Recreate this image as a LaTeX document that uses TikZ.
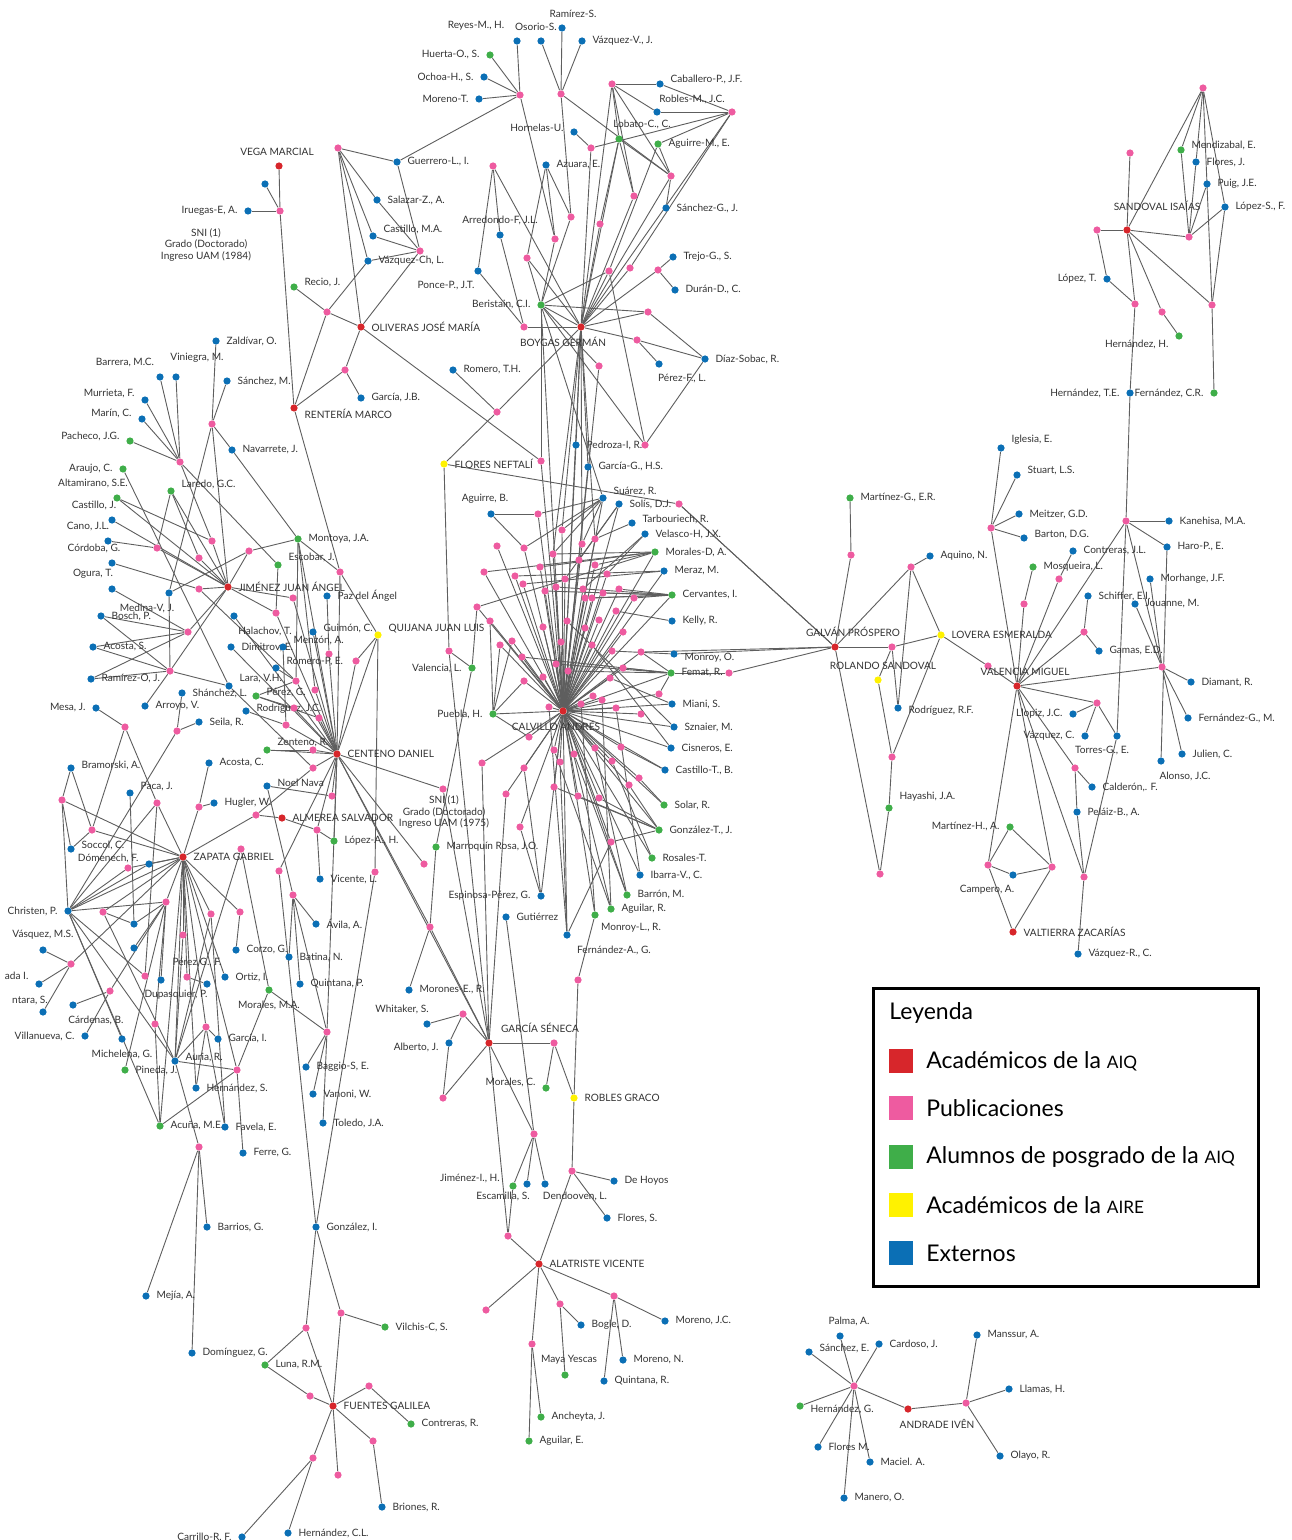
\documentclass[tikz,border=0pt]{standalone}
\usepackage{fontspec}
\setmainfont{Lato}
\definecolor{cR}{HTML}{D7262B}
\definecolor{cP}{HTML}{EE5BA0}
\definecolor{cG}{HTML}{3FAE49}
\definecolor{cY}{HTML}{FFF200}
\definecolor{cB}{HTML}{0B6FB5}
\definecolor{txt}{HTML}{333333}
\definecolor{lnc}{HTML}{5E5E5E}
\newcommand\lbf{\fontsize{5.05}{5.6}\selectfont}
\newcommand\legf{\fontsize{11.5}{13}\selectfont}
\newcommand\sca[1]{{\fontsize{8.6}{10}\selectfont #1}}
\pgfdeclarelayer{bg}
\pgfsetlayers{bg,main}
\begin{document}
\begin{tikzpicture}[x=0.5pt,y=-0.5pt,
  dot/.style={circle,inner sep=0pt,minimum size=3.6pt},
  dR/.style={dot,fill=cR}, dP/.style={dot,fill=cP}, dG/.style={dot,fill=cG},
  dY/.style={dot,fill=cY}, dB/.style={dot,fill=cB},
  lnk/.style={draw=lnc,line width=0.45pt},
  txtn/.style={font=\lbf,text=txt,inner sep=0pt},
  every label/.style={font=\lbf,text=txt,inner sep=0.5pt},
  label distance=2.6pt,
  sq/.style={minimum size=12pt,inner sep=0pt},
  legt/.style={anchor=west,font=\legf,inner sep=0pt,text=black}]
\useasboundingbox (0,0) rectangle (1291,1540);
% ---------- top-left
\node[dR,label={[xshift=-1pt]above:VEGA MARCIAL}] (vega) at (279,166) {};
\node[dB] (b1) at (265,184) {};
\node[dP] (p1) at (280,211) {};
\node[dB,label={left:Iruegas-E, A.}] (irue) at (248,211) {};
\node[txtn,align=center] (sni1) at (206,245) {SNI (1)\\Grado (Doctorado)\\Ingreso UAM (1984)};
\node[dP] (p2) at (338,148) {};
\node[dB,label={right:Guerrero-L., I.}] (guer) at (397,162) {};
\node[dB,label={right:Salazar-Z., A.}] (sala) at (377,200) {};
\node[dB,label={[yshift=3.5pt]right:Castillo, M.A.}] (cast) at (373,236) {};
\node[dP] (p3) at (420,251) {};
\node[dB,label={right:Vázquez-Ch, L.}] (vazch) at (368,261) {};
\node[dG,label={[yshift=2pt]right:Recio, J.}] (recio) at (294,287) {};
\node[dP] (p4) at (327,312) {};
\node[dR,label={right:OLIVERAS JOSÉ MARÍA}] (oliv) at (361,327) {};
\node[dP] (p5) at (345,370) {};
\node[dB,label={right:García, J.B.}] (garJB) at (361,398) {};
\node[dR,label={[yshift=-3pt]right:RENTERÍA MARCO}] (rent) at (294,408) {};
\node[dB,label={right:Zaldívar, O.}] (zald) at (216,341) {};
\node[dB,label={[xshift=-17.5pt]above:Barrera, M.C.}] (barr) at (160,377) {};
\node[dB,label={[xshift=10.5pt,yshift=2pt]above:Viniegra, M.}] (vini) at (176,377) {};
\node[dB,label={right:Sánchez, M.}] (sanM) at (227,381) {};
% ---------- top-middle
\node[dB,label={[xshift=5.5pt]above:Ramírez-S.}] (rami) at (562,28) {};
\node[dB,label={[xshift=-20.5pt]above:Reyes-M., H.}] (reyes) at (517,41) {};
\node[dB,label={[xshift=-2.5pt]above:Osorio-S.}] (osor) at (541,41) {};
\node[dB,label={right:Vázquez-V., J.}] (vazV) at (582,41) {};
\node[dG,label={left:Huerta-O., S.}] (huer) at (490,55) {};
\node[dB,label={left:Ochoa-H., S.}] (ocho) at (484,77) {};
\node[dB,label={left:Moreno-T.}] (more) at (479,99) {};
\node[dP] (p6) at (520,95) {};
\node[dP] (p7) at (561,94) {};
\node[dP] (p8) at (612,84) {};
\node[dB,label={[yshift=2.5pt]right:Caballero-P., J.F.}] (caba) at (660,84) {};
\node[dB,label={[xshift=17.5pt,yshift=-1pt]above:Robles-M., J.C.}] (robl) at (657,112) {};
\node[dP] (p9) at (732,112) {};
\node[dB,label={[yshift=2pt]left:Hornelas-U.}] (horn) at (574,132) {};
\node[dP] (p10) at (591,148) {};
\node[dG,label={[xshift=11.5pt]above:Lobato-C., C.}] (loba) at (619,139) {};
\node[dG,label={right:Aguirre-M., E.}] (agM) at (658,144) {};
\node[dP] (p11) at (493,166) {};
\node[dB,label={right:Azuara, E.}] (azua) at (546,165) {};
\node[dP] (p12) at (671,176) {};
\node[dP] (p13) at (634,196) {};
\node[dB,label={right:Sánchez-G., J.}] (sanG) at (666,208) {};
\node[dP] (p14) at (571,217) {};
\node[dP] (p15) at (600,224) {};
\node[dB,label={above:Arredondo-F, J.L.}] (arre) at (500,235) {};
\node[dP] (p16) at (555,239) {};
\node[dP] (p17) at (527,258) {};
\node[dB,label={right:Trejo-G., S.}] (trej) at (673,257) {};
\node[dP] (p18) at (658,270) {};
\node[dP] (p19) at (630,268) {};
\node[dP] (p20) at (609,271) {};
\node[dB,label={[xshift=-16pt]below:Ponce-P., J.T.}] (ponc) at (478,271) {};
\node[dB,label={right:Durán-D., C.}] (dura) at (675,290) {};
\node[dG,label={left:Beristain, C.I.}] (beri) at (541,305) {};
\node[dP] (p21) at (648,312) {};
\node[dR,label={[xshift=-9pt]below:BOYGAS GERMÁN}] (boyg) at (581,327) {};
\node[dP] (p22) at (524,327) {};
\node[dP] (p23) at (637,340) {};
\node[dB,label={right:Díaz-Sobac, R.}] (diaz) at (705,359) {};
\node[dB,label={[xshift=11.5pt]below:Pérez-F., L.}] (pere) at (659,364) {};
\node[dP] (p24) at (599,366) {};
\node[dB,label={right:Romero, T.H.}] (romT) at (453,370) {};
% ---------- top-right
\node[dP] (p25) at (1203,88) {};
\node[dP] (p26) at (1130,153) {};
\node[dG,label={[yshift=2.5pt]right:Mendizabal, E.}] (mend) at (1181,150) {};
\node[dB,label={right:Flores, J.}] (florJ) at (1196,162) {};
\node[dB,label={right:Puig, J.E.}] (puig) at (1207,184) {};
\node[dB,label={right:López-S., F.}] (lopS) at (1225,207) {};
\node[dR,label={[xshift=15pt,yshift=4.2pt]above:SANDOVAL ISAÍAS}] (sand) at (1127,230) {};
\node[dP] (p27) at (1097,230) {};
\node[dP] (p28) at (1189,237) {};
\node[dB,label={left:López, T.}] (lopT) at (1107,279) {};
\node[dP] (p29) at (1135,304) {};
\node[dP] (p30) at (1162,312) {};
\node[dP] (p31) at (1212,305) {};
\node[dG,label={[yshift=-4pt]left:Hernández, H.}] (hernH) at (1179,336) {};
\node[dB,label={left:Hernández, T.E.}] (hernTE) at (1130,393) {};
\node[dG,label={left:Fernández, C.R.}] (fernCR) at (1214,393) {};
% ---------- right-middle
\node[dB,label={[yshift=4pt]right:Iglesia, E.}] (igle) at (1001,448) {};
\node[dB,label={[yshift=2pt]right:Stuart, L.S.}] (stua) at (1017,475) {};
\node[dB,label={right:Meitzer, G.D.}] (meit) at (1019,514) {};
\node[dB,label={[yshift=1.5pt]right:Barton, D.G.}] (bart) at (1024,538) {};
\node[dP] (p32) at (991,528) {};
\node[dG,label={right:Martínez-G., E.R.}] (marG) at (850,498) {};
\node[dP] (p33) at (851,555) {};
\node[dB,label={right:Kanehisa, M.A.}] (kane) at (1169,521) {};
\node[dP] (p34) at (1126,521) {};
\node[dB,label={right:Haro-P., E.}] (haro) at (1167,547) {};
\node[dB,label={right:Contreras, J.L.}] (cont) at (1073,551) {};
\node[dB,label={right:Aquino, N.}] (aqui) at (930,556) {};
\node[dP] (p35) at (911,567) {};
\node[dG,label={right:Mosqueira, L.}] (mosq) at (1033,567) {};
\node[dP] (p36) at (1059,579) {};
\node[dB,label={right:Morhange, J.F.}] (morh) at (1150,579) {};
\node[dB,label={right:Schiffer, E.I.}] (schi) at (1088,596) {};
\node[dB,label={right:Jouanne, M.}] (joua) at (1135,604) {};
\node[dP] (p37) at (1024,604) {};
\node[dP] (p38) at (1084,632) {};
\node[dY,label={right:LOVERA ESMERALDA}] (love) at (941,635) {};
\node[dP] (p39) at (892,647) {};
\node[dB,label={right:Gamas, E.D.}] (gama) at (1099,651) {};
\node[dP] (p40) at (988,666) {};
\node[dP] (p41) at (1162,667) {};
\node[dY,label={[xshift=2.5pt]above:ROLANDO SANDOVAL}] (rola) at (878,680) {};
\node[dR,label={[xshift=4pt]above:VALENCIA MIGUEL}] (vale) at (1017,686) {};
\node[dB,label={right:Diamant, R.}] (diam) at (1191,682) {};
\node[dB,label={[yshift=-1.5pt]right:Rodríguez, R.F.}] (rodRF) at (898,708) {};
\node[dP] (p42) at (1097,703) {};
\node[dB,label={left:Llopiz, J.C.}] (llop) at (1073,714) {};
\node[dB,label={right:Fernández-G., M.}] (fernGM) at (1188,718) {};
\node[dB,label={left:Vázquez, C.}] (vazC) at (1085,736) {};
\node[dB,label={[xshift=-7.5pt]below:Torres-G., E.}] (torr) at (1117,736) {};
\node[dB,label={right:Julien, C.}] (juli) at (1182,754) {};
\node[dB,label={[xshift=12pt]below:Alonso, J.C.}] (alon) at (1161,761) {};
\node[dP] (p43) at (892,757) {};
\node[dP] (p44) at (1075,768) {};
\node[dR,label={[xshift=9pt]above:GALVÁN PRÓSPERO}] (galv) at (835,647) {};
% ---------- lower-right
\node[dG,label={[yshift=5.5pt]right:Hayashi, J.A.}] (haya) at (889,808) {};
\node[dP] (p45) at (880,874) {};
\node[dG,label={left:Martínez-H., A.}] (marH) at (1010,827) {};
\node[dP] (p46) at (988,865) {};
\node[dB,label={[xshift=-13pt]below:Campero, A.}] (camp) at (1013,875) {};
\node[dP] (p47) at (1052,867) {};
\node[dR,label={right:VALTIERRA ZACARÍAS}] (valt) at (1013,932) {};
\node[dP] (p48) at (1084,877) {};
\node[dB,label={right:Vázquez-R., C.}] (vazR) at (1078,954) {};
\node[dB,label={right:Calderón,. F.}] (cald) at (1092,787) {};
\node[dB,label={right:Peláiz-B., A.}] (pela) at (1077,812) {};
% ---------- left-middle
\node[dB,label={[yshift=3.5pt]left:Murrieta, F.}] (murr) at (145,400) {};
\node[dB,label={[yshift=2.5pt]left:Marín, C.}] (mari) at (142,419) {};
\node[dG,label={[yshift=2.5pt]left:Pacheco, J.G.}] (pach) at (130,441) {};
\node[dP] (p49) at (212,424) {};
\node[dB,label={right:Navarrete, J.}] (nava) at (232,450) {};
\node[dP] (p50) at (180,462) {};
\node[dG,label={left:Araujo, C.}] (arau) at (123,469) {};
\node[dG,label={[yshift=3.5pt]right:Laredo, G.C.}] (lare) at (171,491) {};
\node[dG,label={[xshift=-12pt]above:Altamirano, S.E.}] (alta) at (117,498) {};
\node[dB,label={[xshift=-9pt]above:Castillo, J.}] (casJ) at (112,520) {};
\node[dB,label={[xshift=-10pt]above:Cano, J.L.}] (canoJ) at (108,541) {};
\node[dP] (p51) at (157,548) {};
\node[dP] (p52) at (212,541) {};
\node[dP] (p53) at (199,558) {};
\node[dB,label={[xshift=-9pt]above:Córdoba, G.}] (cord) at (112,563) {};
\node[dG,label={right:Montoya, J.A.}] (mont) at (298,539) {};
\node[dP] (p54) at (249,551) {};
\node[dG,label={[yshift=4pt]right:Escobar, J.}] (esco) at (278,565) {};
\node[dP] (p55) at (340,572) {};
\node[dR,label={right:JIMÉNEZ JUAN ÁNGEL}] (jime) at (228,587) {};
\node[dP] (p56) at (199,589) {};
\node[dB,label={[xshift=-9.5pt]above:Ogura, T.}] (ogur) at (112,589) {};
\node[dB,label={[xshift=-11pt]below:Medina-V, J.}] (medi) at (169,593) {};
\node[dB,label={right:Paz del Ángel}] (paz) at (327,596) {};
\node[dP] (p57) at (293,598) {};
\node[dP] (p58) at (276,613) {};
\node[dB,label={[xshift=15.5pt]below:Halachov, T.}] (hala) at (234,616) {};
\node[dB,label={right:Bosch, P.}] (bosc) at (101,616) {};
\node[dB,label={[yshift=2pt]right:Guimón, C.}] (guim) at (313,632) {};
\node[dY,label={[yshift=3pt]right:QUIJANA JUAN LUIS}] (quij) at (378,635) {};
\node[dP] (p59) at (188,632) {};
\node[dB,label={right:Acosta, S.}] (acoS) at (93,647) {};
\node[dB,label={right:Dimitrov, E.}] (dimi) at (231,647) {};
\node[dB,label={[yshift=3pt]right:Menzón, A.}] (menz) at (283,647) {};
\node[dP] (p60) at (329,654) {};
\node[dP] (p61) at (356,661) {};
\node[dB,label={[yshift=3pt]right:Romero-P, E.}] (romP) at (276,668) {};
\node[dP] (p62) at (296,681) {};
\node[dB,label={right:Ramírez-O, J.}] (ramO) at (91,679) {};
\node[dP] (p63) at (170,671) {};
\node[dB,label={[yshift=3.5pt]right:Lara, V.H.}] (lara) at (229,686) {};
\node[dB,label={right:Shánchez, L.}] (shan) at (182,693) {};
\node[dP] (p64) at (315,690) {};
\node[dG,label={[yshift=1.5pt]right:Pérez, G.}] (pereG) at (256,696) {};
\node[dB,label={right:Arroyo, V.}] (arro) at (145,706) {};
\node[dB,label={left:Mesa, J.}] (mesa) at (96,708) {};
\node[dB,label={[yshift=1pt]right:Rodríguez, J.C.}] (rodJC) at (246,711) {};
\node[dP] (p65) at (294,708) {};
\node[dP] (p66) at (319,718) {};
\node[dB,label={right:Seila, R.}] (seil) at (199,722) {};
\node[dP] (p67) at (286,725) {};
\node[dP] (p68) at (125,727) {};
\node[dP] (p69) at (177,731) {};
\node[dG,label={[yshift=3.5pt]right:Zenteno, R.}] (zent) at (267,750) {};
\node[dP] (p70) at (313,750) {};
\node[dR,label={right:CENTENO DANIEL}] (cent) at (337,754) {};
\node[dB,label={right:Acosta, C.}] (acoC) at (209,763) {};
\node[dB,label={[yshift=1.5pt]right:Bramorski, A.}] (bram) at (71,768) {};
\node[dP] (p71) at (313,768) {};
% ---------- lower-left
\node[dB,label={[yshift=1.5pt]right:Noel Nava}] (noel) at (267,786) {};
\node[dP] (p72) at (332,796) {};
\node[dB,label={[yshift=3pt]right:Paca, J.}] (paca) at (130,793) {};
\node[dP] (p73) at (62,800) {};
\node[dP] (p74) at (157,803) {};
\node[dP] (p75) at (199,807) {};
\node[dB,label={right:Hugler, W.}] (hugl) at (214,803) {};
\node[dP] (p76) at (256,815) {};
\node[dR,label={right:ALMEREA SALVADOR}] (alme) at (282,818) {};
\node[dP] (p77) at (317,830) {};
\node[dG,label={right:López-A., H.}] (lopA) at (334,841) {};
\node[dP] (p78) at (92,830) {};
\node[dB,label={[yshift=2pt]right:Soccol, C.}] (socc) at (71,849) {};
\node[dP] (p79) at (241,849) {};
\node[dR,label={right:ZAPATA GABRIEL}] (zapa) at (183,857) {};
\node[dB,label={[yshift=3pt]left:Dómenech, F.}] (dome) at (149,864) {};
\node[dP] (p80) at (128,868) {};
\node[dP] (p81) at (279,871) {};
\node[dP] (p82) at (375,872) {};
\node[dB,label={right:Vicente, L.}] (vice) at (320,879) {};
\node[dP] (p83) at (293,895) {};
\node[dP] (p84) at (166,902) {};
\node[dB,label={left:Christen, P.}] (chri) at (68,911) {};
\node[dP] (p85) at (103,912) {};
\node[dP] (p86) at (211,914) {};
\node[dP] (p87) at (240,912) {};
\node[dB,label={right:Ávila, A.}] (avil) at (316,924) {};
\node[dB] (b2) at (134,924) {};
\node[dP] (p88) at (424,864) {};
\node[dP] (p89) at (430,927) {};
\node[dP] (p90) at (183,935) {};
\node[dB,label={above:Vásquez, M.S.}] (vasMS) at (43,950) {};
\node[dB] (b3) at (134,948) {};
\node[dB,label={right:Corzo, G.}] (corz) at (236,950) {};
\node[dB,label={right:Batina, N.}] (bati) at (289,957) {};
\node[dP] (p91) at (71,964) {};
\node[dP,label={[xshift=5pt]above:Pérez G., F.}] (p92) at (187,977) {};
\node[dB] (b4) at (207,984) {};
\node[dB,label={right:Ortiz, I.}] (orti) at (225,977) {};
\node[dB,label={[yshift=4pt]left:ada I.}] (estr) at (39,984) {};
\node[dP] (p93) at (145,976) {};
\node[dB,label={[xshift=7.5pt]below:Dupasquier, P.}] (b5) at (161,980) {};
\node[dB,label={right:Quintana, P.}] (quiP) at (300,984) {};
\node[dP] (p94) at (110,991) {};
\node[dG,label={below:Morales, M.A.}] (morMA) at (269,990) {};
\node[dB,label={[xshift=-6.5pt,yshift=-1.5pt]above:ntara, S.}] (alca) at (43,1012) {};
\node[dB,label={[xshift=11.5pt]below:Cárdenas, B.}] (card) at (73,1005) {};
\node[dB,label={[xshift=-12.5pt]above:Whitaker, S.}] (whit) at (427,1024) {};
\node[dB,label={left:Villanueva, C.}] (vill) at (85,1036) {};
\node[dP] (p95) at (155,1024) {};
\node[dP] (p96) at (206,1027) {};
\node[dB,label={right:García, I.}] (garI) at (218,1039) {};
\node[dP] (p97) at (327,1032) {};
\node[dB,label={below:Michelena, G.}] (mich) at (122,1039) {};
\node[dB,label={[yshift=2pt]right:Auria, R.}] (auri) at (175,1061) {};
\node[dG,label={right:Pineda, J.}] (pine) at (125,1070) {};
\node[dP] (p98) at (237,1070) {};
\node[dB,label={right:Baggio-S, E.}] (bagg) at (306,1067) {};
\node[dB,label={right:Hernández, S.}] (herS) at (196,1088) {};
\node[dB,label={right:Vanoni, W.}] (vano) at (313,1094) {};
\node[dG,label={right:Acuña, M.E.}] (acun) at (160,1126) {};
\node[dB,label={right:Favela, E.}] (fave) at (225,1127) {};
\node[dB,label={right:Toledo, J.A.}] (tole) at (323,1123) {};
\node[dP] (p99) at (199,1147) {};
\node[dB,label={right:Ferre, G.}] (ferr) at (243,1153) {};
\node[dB,label={[yshift=-2pt]left:Alberto, J.}] (albe) at (449,1043) {};
% ---------- bottom-left
\node[dB,label={right:Barrios, G.}] (barrG) at (207,1227) {};
\node[dB,label={right:González, I.}] (gonI) at (316,1227) {};
\node[dB,label={right:Mejía, A.}] (meji) at (146,1296) {};
\node[dP] (p100) at (341,1313) {};
\node[dG,label={right:Vilchis-C, S.}] (vilc) at (385,1327) {};
\node[dP] (p101) at (306,1328) {};
\node[dB,label={right:Domínguez, G.}] (domi) at (192,1353) {};
\node[dG,label={right:Luna, R.M.}] (luna) at (265,1365) {};
\node[dP] (p102) at (369,1386) {};
\node[dP] (p103) at (310,1396) {};
\node[dR,label={right:FUENTES GALILEA}] (fuen) at (333,1406) {};
\node[dG,label={right:Contreras, R.}] (conR) at (411,1424) {};
\node[dP] (p104) at (373,1441) {};
\node[dP] (p105) at (313,1458) {};
\node[dP] (p106) at (338,1475) {};
\node[dB,label={right:Briones, R.}] (brio) at (382,1507) {};
\node[dB,label={left:Carrillo-R, F.}] (carr) at (242,1537) {};
\node[dB,label={right:Hernández, C.L.}] (herCL) at (288,1533) {};
% ---------- centre
\node[dP] (p107) at (497,412) {};
\node[dP] (p108) at (645,445) {};
\node[dY,label={right:FLORES NEFTALÍ}] (flor) at (444,464) {};
\node[dP] (p109) at (541,461) {};
\node[dB,label={right:Pedroza-I, R.}] (pedr) at (576,445) {};
\node[dB,label={right:García-G., H.S.}] (garHS) at (588,467) {};
\node[dB,label={[yshift=3pt]right:Suárez, R.}] (suar) at (603,498) {};
\node[dB,label={right:Solís, D.J.}] (soli) at (619,504) {};
\node[dP] (p110) at (679,504) {};
\node[dB,label={[xshift=-3pt]above:Aguirre, B.}] (aguB) at (491,514) {};
\node[dB,label={[yshift=2pt]right:Tarbouriech, R.}] (tarb) at (632,523) {};
\node[dB,label={right:Velasco-H, J.X.}] (velH) at (645,534) {};
\node[dG,label={right:Morales-D, A.}] (morD) at (655,552) {};
\node[dB,label={right:Meraz, M.}] (meraz) at (664,571) {};
\node[dG,label={right:Cervantes, I.}] (cerv) at (672,595) {};
\node[dB,label={right:Kelly, R.}] (kell) at (672,621) {};
\node[dB,label={[yshift=-2pt]right:Monroy, O.}] (monO) at (674,654) {};
\node[dG,label={left:Valencia, L.}] (vaL) at (472,668) {};
\node[dP] (p111) at (449,651) {};
\node[dG,label={right:Femat, R.}] (fema) at (671,673) {};
\node[dP] (p112) at (729,673) {};
\node[dB,label={right:Miani, S.}] (mian) at (672,704) {};
\node[dR,label={[xshift=-3.5pt]below:CALVILLO ANDRÉS}] (calv) at (563,711) {};
\node[dG,label={left:Puebla, H.}] (pueb) at (493,714) {};
\node[dB,label={right:Sznaier, M.}] (szna) at (674,727) {};
\node[dB,label={right:Cisneros, E.}] (cisn) at (671,748) {};
\node[dB,label={right:Castillo-T., B.}] (casT) at (665,770) {};
\node[dP] (p113) at (443,789) {};
\node[txtn,align=center] (sni2) at (444,812) {SNI (1)\\Grado (Doctorado)\\Ingreso UAM (1975)};
\node[dG,label={right:Solar, R.}] (sola) at (664,805) {};
\node[dG,label={right:González-T., J.}] (gonT) at (659,830) {};
\node[dG,label={right:Marroquín Rosa, J.O.}] (marr) at (436,847) {};
\node[dG,label={right:Rosales-T.}] (rosa) at (652,858) {};
\node[dB,label={right:Ibarra-V., C.}] (ibar) at (640,875) {};
\node[dB,label={left:Espinosa-Pérez, G.}] (espi) at (541,896) {};
\node[dG,label={right:Barrón, M.}] (barM) at (627,895) {};
\node[dB,label={right:Gutiérrez}] (guti) at (506,917) {};
\node[dG,label={right:Aguilar, R.}] (aguR) at (611,909) {};
\node[dG,label={[xshift=18pt,yshift=1pt]below:Monroy-L., R.}] (monL) at (595,915) {};
\node[dB,label={[xshift=23.5pt]below:Fernández-A., G.}] (ferA) at (567,935) {};
\node[dB,label={right:Morones-E., R.}] (moro) at (409,990) {};
\node[dP] (p114) at (463,1014) {};
\node[dR,label={[xshift=25.5pt]above:GARCÍA SÉNECA}] (garS) at (489,1043) {};
\node[dP] (p115) at (554,1043) {};
\node[dG,label={[yshift=3pt]left:Morales, C.}] (morC) at (546,1088) {};
\node[dY,label={right:ROBLES GRACO}] (robG) at (574,1098) {};
\node[dP] (p116) at (443,1098) {};
\node[dP] (p117) at (534,1134) {};
% ---------- bottom-middle
\node[dP] (p118) at (572,1171) {};
\node[dB,label={right:De Hoyos}] (hoyo) at (614,1181) {};
\node[dG] (esca) at (513,1186) {};
\node[dB] (b6) at (527,1184) {};
\node[dB] (b7) at (545,1184) {};
\node[txtn] (tJim) at (470,1178) {Jiménez-I., H.};
\node[txtn] (tEsc) at (503,1196) {Escamilla, S.};
\node[txtn] (tDen) at (575,1196) {Dendooven, L.};
\node[dB,label={right:Flores, S.}] (flS) at (607,1218) {};
\node[dP] (p119) at (508,1236) {};
\node[dR,label={right:ALATRISTE VICENTE}] (alat) at (539,1264) {};
\node[dP] (p120) at (486,1310) {};
\node[dP] (p121) at (560,1304) {};
\node[dP] (p122) at (614,1296) {};
\node[dB,label={right:Bogle, D.}] (bogl) at (581,1325) {};
\node[dB,label={right:Moreno, J.C.}] (morJC) at (665,1321) {};
\node[dP] (p123) at (532,1344) {};
\node[dB,label={right:Moreno, N.}] (morN) at (623,1360) {};
\node[dG,label={[xshift=2pt]above:Maya Yescas}] (maya) at (565,1375) {};
\node[dB,label={right:Quintana, R.}] (quiR) at (604,1381) {};
\node[dG,label={right:Ancheyta, J.}] (anch) at (541,1417) {};
\node[dG,label={right:Aguilar, E.}] (aguE) at (529,1441) {};
% ---------- bottom-right
\node[dB,label={[xshift=4.5pt]above:Palma, A.}] (palm) at (840,1336) {};
\node[dB,label={[yshift=2pt]right:Sánchez, E.}] (sanE) at (809,1352) {};
\node[dP] (p124) at (854,1386) {};
\node[dG,label={[yshift=-1.5pt]right:Hernández, G.}] (herG) at (800,1406) {};
\node[dB,label={right:Flores M.}] (floM) at (818,1447) {};
\node[dB,label={right:Manero, O.}] (mane) at (844,1498) {};
\node[dB,label={right:Cardoso, J.}] (card2) at (879,1344) {};
\node[dR,label={[xshift=14.5pt]below:ANDRADE IVÊN}] (andr) at (908,1409) {};
\node[dP] (p125) at (966,1403) {};
\node[dB,label={right:Manssur, A.}] (mans) at (977,1335) {};
\node[dB,label={right:Llamas, H.}] (llam) at (1009,1389) {};
\node[dB,label={right:Olayo, R.}] (olay) at (1000,1456) {};
\node[dB,label={right:Maciel. A.}] (maci) at (870,1462) {};
% ---------- Calvillo cluster
\foreach \n/\a/\b in {c1/538/514, c2/562/530, c3/595/539, c4/582/544, c5/497/546, c6/524/548, c7/553/554, c8/579/560, c9/540/567, c10/595/565, c11/484/572, c12/607/574, c13/515/576, c14/565/579, c15/523/584, c16/556/587, c17/545/591, c18/583/589, c19/619/589, c20/603/593, c21/585/598, c22/592/598, c23/634/598, c24/477/607, c25/616/611, c26/490/621, c27/567/621, c28/599/620, c29/543/627, c30/585/628, c31/623/632, c32/500/645, c33/512/641, c34/561/642, c35/592/645, c36/612/651, c37/641/652, c38/522/657, c39/556/664, c40/623/668, c41/568/671, c42/524/681, c43/543/677, c44/610/678, c45/659/694, c46/593/696, c47/602/700, c48/581/704, c49/549/707, c50/616/708, c51/641/714, c52/529/737, c53/554/750, c54/595/748, c55/621/747, c56/574/754, c57/560/762, c58/612/761, c59/482/763, c60/524/768, c61/554/787, c62/578/796, c63/599/798, c64/629/785, c65/639/778, c66/520/827, c67/611/842, c68/506/794, c69/578/980}
  \node[dP] (\n) at (\a,\b) {};
% ---------- legend
\draw[line width=1.5pt] (873,988) rectangle (1258,1286);
\node[legt] (leyT) at (889,1013) {Leyenda};
\node[sq,fill=cR] (sq1) at (901,1061) {};
\node[legt] (lt1) at (926,1061) {Académicos de la \sca{AIQ}};
\node[sq,fill=cP] (sq2) at (901,1108) {};
\node[legt] (lt2) at (926,1108) {Publicaciones};
\node[sq,fill=cG] (sq3) at (901,1157) {};
\node[legt] (lt3) at (926,1157) {Alumnos de posgrado de la \sca{AIQ}};
\node[sq,fill=cY] (sq4) at (901,1205) {};
\node[legt] (lt4) at (926,1205) {Académicos de la \sca{AIRE}};
\node[sq,fill=cB] (sq5) at (901,1253) {};
\node[legt] (lt5) at (926,1253) {Externos};
% ---------- edges
\begin{pgfonlayer}{bg}
\fill[white] (0,0) rectangle (1291,1540);
\foreach \a/\b in {vega/p1, b1/p1, irue/p1, p1/rent,
 p2/guer, p2/sala, p2/cast, p2/vazch, p2/oliv,
 guer/p3, guer/p6, sala/p3, cast/p3, vazch/p3, vazch/p4, p3/oliv,
 recio/p4, p4/oliv, p4/rent, oliv/p5, oliv/p109, p5/rent, p5/garJB,
 zald/p49, sanM/p49, barr/p50, vini/p50,
 reyes/p6, huer/p6, ocho/p6, more/p6, p6/p16,
 osor/p7, rami/p7, vazV/p7, p7/p14, p7/p12,
 horn/p10, p10/p9, p10/boyg,
 p8/caba, p8/robl, p8/boyg, p8/p13, p8/p12, p8/loba,
 caba/p9, robl/p9, p9/agM, p9/boyg, p9/p19,
 loba/p13, loba/boyg, loba/p12, agM/p12, agM/p20,
 p12/sanG, p12/boyg, p13/boyg,
 p11/ponc, p11/boyg, p11/arre, arre/p22,
 azua/p17, azua/p14, azua/p16,
 p17/beri, p17/boyg, p16/beri, p14/beri,
 ponc/p22, p22/boyg,
 beri/boyg, beri/p21, beri/p20, beri/p24,
 boyg/p21, boyg/p18, boyg/p23, boyg/p19, boyg/p20, boyg/p15, p15/loba,
 trej/p18, dura/p18, p21/diaz, p23/diaz, p23/pere, diaz/p108,
 romT/p107, p107/boyg, flor/p107, p24/calv,
 p25/sand, p25/mend, p25/florJ, p25/lopS, p25/p31,
 mend/p28, florJ/p28, puig/p28, lopS/p28, sand/p28,
 sand/p27, sand/p26, sand/p29, sand/p30, sand/p31,
 p27/lopT, lopT/p29, p30/hernH, p29/hernTE, lopS/p31, p31/fernCR, hernTE/p34,
 igle/p32, stua/p32, meit/p32, bart/p32, p32/vale,
 kane/p34, p34/haro, p34/vale, p34/p41, p34/torr,
 haro/alon, morh/p41, joua/p41,
 cont/p36, p36/vale, mosq/p37, p37/vale,
 schi/p38, gama/p38, p38/vale,
 p41/vale, p41/diam, p41/fernGM, p41/juli,
 love/p40, p40/vale, love/p39, love/p35, love/p43,
 aqui/p35, p35/galv, p35/rodRF,
 p39/galv, p39/rola, p39/rodRF, rola/p43,
 vale/p42, p42/llop, p42/vazC, p42/torr,
 vale/p44, torr/p48, p44/cald, pela/p44,
 marG/p33, p33/galv, galv/p45, haya/p45, haya/p43,
 vale/p46, p46/marH, p46/camp, p46/valt, marH/p47, camp/p47, p47/valt, p47/vale,
 p48/vale, p48/pela, p48/vazR,
 galv/p110, galv/monO, galv/p112, galv/c37}
  \draw[lnk] (\a) -- (\b);
\foreach \a/\b in {murr/p50, mari/p50, pach/p50, p50/esco, p50/p52,
 p49/nava, p49/jime, p49/medi, nava/mont, arau/lara,
 lare/p51, lare/p53, lare/jime, alta/p52, alta/jime, p52/jime, p53/jime,
 casJ/jime, canoJ/p51, p51/jime,
 cord/p56, p56/jime, p56/p62,
 ogur/p59, bosc/p59, bosc/p63, acoS/p59, acoS/p63, ramO/p59, ramO/p63,
 p59/jime, p63/jime, p63/lara, p63/arro, medi/p63, medi/p54,
 p54/mont, p54/jime, jime/p57, jime/p58, esco/p58,
 mont/p55, p55/quij, rent/p55, p55/cent,
 mont/p62, mont/p64, mont/cent,
 paz/p60, p60/cent, guim/cent, quij/p61, p61/cent, quij/cent,
 hala/cent, dimi/cent, romP/p62, menz/p67,
 lara/p71, p62/cent, p64/cent, p57/cent, p58/cent,
 pereG/p62, pereG/p65, pereG/p66,
 rodJC/p67, mesa/p68, seil/p69, shan/p69, p69/chri,
 p68/p78, p68/p74,
 zent/p70, zent/cent, p70/cent, p65/cent, p66/cent, p67/cent,
 cent/p113, cent/p72, cent/p77, cent/p81, cent/p88, cent/p89, cent/garS, cent/p97, cent/lopA,
 noel/p72, noel/p83, p76/p71, p71/cent}
  \draw[lnk] (\a) -- (\b);
\foreach \a/\b in {zapa/p74, zapa/p75, zapa/p76, zapa/p78, zapa/p73, zapa/dome, zapa/p80, zapa/chri,
 zapa/p85, zapa/p84, zapa/p86, zapa/p87, zapa/p90, zapa/auri, zapa/p92, zapa/p96, zapa/p98,
 zapa/p91, zapa/acun, zapa/herS, zapa/orti,
 p76/alme, alme/p77, p77/lopA, p77/vice,
 hugl/p75, p75/acoC,
 p73/chri, p73/socc, p73/bram, p78/bram, p78/socc,
 p74/chri, p74/p93, paca/b2,
 chri/p80, chri/dome, chri/acun, chri/p84, chri/mich, chri/auri, chri/p93,
 p85/b2, p85/auri,
 p91/vasMS, p91/estr, p91/alca,
 p94/card, p94/vill, p94/p84,
 p84/b2, p84/b3, p84/b5, pine/p84,
 p95/acun, p95/p84,
 p90/auri, p92/b4, p86/fave, p86/auri,
 p87/corz, p79/morMA, p79/auri,
 morMA/p97, morMA/p98,
 p98/auri, p98/acun, p98/ferr,
 p96/garI, p96/auri, p96/herS, p96/fave,
 auri/p99,
 p83/avil, p83/bati, p83/quiP, p83/p97,
 p97/bagg, p97/vano, p97/tole,
 p81/gonI, quij/p82, p82/gonI,
 p99/barrG, p99/meji, p99/domi,
 gonI/p100, gonI/p101, p100/vilc, p100/fuen, p101/luna, p101/fuen, luna/p103, p103/fuen,
 fuen/p102, p102/conR, fuen/p104, p104/brio, fuen/p105, p105/carr, p105/herCL, fuen/p106}
  \draw[lnk] (\a) -- (\b);
\foreach \a/\b in {flor/p111, p111/vaL, p111/garS, flor/p110, p110/galv,
 p109/beri, p109/calv,
 pedr/boyg, pedr/calv, p108/beri, p108/p20,
 garHS/boyg, garHS/calv, boyg/calv, beri/calv, beri/suar, boyg/c2, boyg/c3, boyg/c4, boyg/c7,
 aguB/c1, aguB/c6, c1/suar, c6/suar,
 suar/calv, soli/calv, velH/c12, velH/c18, tarb/c3, suar/c4, suar/c7, suar/c2,
 soli/c8, soli/c14, morD/c7, morD/c9, morD/c10, morD/c11, morD/c24,
 meraz/c13, meraz/c15, cerv/c16, cerv/c17, cerv/c20, cerv/c21, cerv/c22, cerv/c23, cerv/c19,
 kell/c25, monO/c36, fema/c37, fema/c38, fema/c39, fema/c40, fema/c41, fema/c45, fema/p112,
 mian/c44, szna/c27, cisn/c35, casT/c55, sola/c65,
 gonT/c62, gonT/c63, gonT/c64, gonT/c61, gonT/c67,
 rosa/c58, ibar/c50, barM/c54, barM/c56, aguR/c47, aguR/c53,
 monL/c48, monL/c69, ferA/c57, ferA/c49, ferA/c67, espi/c66, espi/c60,
 pueb/c26, pueb/c32, pueb/c33, pueb/c42, pueb/c52,
 c24/vaL, c59/garS, c68/garS, c69/robG, c68/calv, guti/p117,
 morD/calv, cerv/calv, fema/calv, meraz/calv, mian/calv, szna/calv, cisn/calv, casT/calv,
 pueb/calv, ferA/calv, monL/calv, aguR/calv, barM/calv, espi/calv, gonT/calv, ibar/calv,
 rosa/calv, sola/calv,
 garS/p115, p115/morC, p115/robG, garS/p117, garS/p114, garS/p116,
 whit/p114, albe/p114, albe/p116, garS/p89, p113/garS, garS/p119,
 moro/p89, p89/marr, marr/vaL,
 robG/p118, p118/hoyo, p118/flS, p118/alat,
 p117/esca, p117/b6, p117/b7, esca/p119, p119/alat,
 alat/p120, alat/p121, alat/p122, alat/p123, p121/bogl, p121/maya,
 p122/morJC, p122/morN, p122/quiR, p123/anch, p123/aguE,
 p124/palm, p124/sanE, p124/herG, p124/floM, p124/mane, p124/card2, p124/andr, p124/maci,
 andr/p125, p125/mans, p125/llam, p125/olay}
  \draw[lnk] (\a) -- (\b);
\foreach \n in {1,...,67}
  \draw[lnk] (calv) -- (c\n);
\end{pgfonlayer}
\end{tikzpicture}
\end{document}
